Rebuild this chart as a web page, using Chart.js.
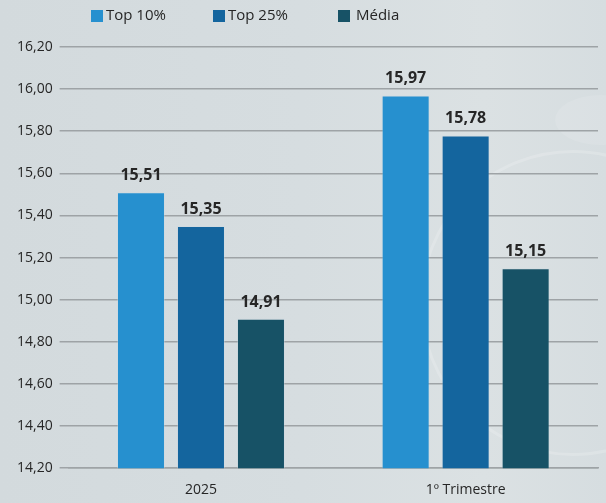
<!DOCTYPE html>
<html>
<head>
<meta charset="utf-8">
<script src="https://cdn.jsdelivr.net/npm/chart.js@4"></script>
<style>
  html, body { margin: 0; padding: 0; }
  body {
    width: 606px; height: 503px; overflow: hidden;
    background: linear-gradient(90deg, #d3dadd 0, #d6dde0 50%, #dbe1e3 80%, #d6dde0 100%);
  }
  #wrap { position: relative; width: 606px; height: 503px; overflow: hidden; }
  .deco {
    position: absolute; border-radius: 50%;
    border: 3px solid rgba(255,255,255,0.18);
  }
</style>
</head>
<body>
<div id="wrap">
  <div class="deco" style="left:420px; top:150px; width:300px; height:300px;"></div>
  <div class="deco" style="left:555px; top:95px; width:90px; height:50px; background:rgba(255,255,255,0.1); border:none;"></div>
  <canvas id="barChart" width="606" height="503" style="position:absolute; left:0; top:0;"></canvas>
</div>
<script>
const categorias = ["2025", "1º Trimestre"];
const seriesNomes = ["Top 10%", "Top 25%", "Média"];
const top10 = [15.51, 15.97];
const top25 = [15.35, 15.78];
const media = [14.91, 15.15];
const cores = ["#2690cf", "#14659e", "#175266"];

// formato com vírgula
function fmt(v) {
  return v.toFixed(2).replace(".", ",");
}

// legenda desenhada à mão (posições como no original)
const legendaX = [91, 213, 338];
const legendaPlugin = {
  id: "legendaManual",
  afterDraw(chart) {
    const ctx = chart.ctx;
    ctx.save();
    ctx.font = "15px 'Open Sans', sans-serif";
    ctx.textBaseline = "middle";
    chart.data.datasets.forEach((ds, i) => {
      ctx.fillStyle = ds.backgroundColor;
      ctx.fillRect(legendaX[i], 10, 12, 12);
      ctx.fillStyle = "#262626";
      ctx.fillText(ds.label, legendaX[i] + (i === 2 ? 18 : 15), 16);
    });
    ctx.restore();
  },
};

// rótulos em cima das barras
const rotulosPlugin = {
  id: "rotulos",
  afterDatasetsDraw(chart) {
    const ctx = chart.ctx;
    ctx.save();
    ctx.font = "bold 16px 'Open Sans', sans-serif";
    ctx.fillStyle = "#262626";
    ctx.textAlign = "center";
    ctx.textBaseline = "alphabetic";
    chart.data.datasets.forEach((ds, i) => {
      chart.getDatasetMeta(i).data.forEach((bar, j) => {
        ctx.fillText(fmt(ds.data[j]), bar.x, bar.y - 12);
      });
    });
    ctx.restore();
  },
};

const ctx = document.getElementById("barChart").getContext("2d");
const chart = new Chart(ctx, {
  type: "bar",
  data: {
    labels: categorias,
    datasets: [top10, top25, media].map((d, i) => ({
      label: seriesNomes[i],
      data: d,
      backgroundColor: cores[i],
      borderColor: "rgba(200,215,225,0.35)",
      borderWidth: 1,
      barPercentage: 0.8,
      categoryPercentage: 0.68,
    })),
  },
  options: {
    responsive: false,
    animation: false,
    layout: { padding: { left: 10, right: 8, top: 47, bottom: 0 } },
    plugins: {
      legend: { display: false },
      tooltip: { enabled: false },
    },
    scales: {
      x: {
        grid: { display: false },
        border: { color: "#9ea3a6", width: 1.5 },
        ticks: { color: "#262626", font: { size: 14, family: "'Open Sans', sans-serif" }, padding: 5 },
      },
      y: {
        min: 14.2,
        max: 16.2,
        ticks: {
          stepSize: 0.2,
          color: "#262626",
          font: { size: 14, family: "'Open Sans', sans-serif" },
          padding: 7,
          callback: (v) => fmt(v),
        },
        grid: { color: "#9ea3a6", lineWidth: 1.5, tickLength: 9, tickColor: "#9ea3a6" },
        border: { display: false },
      },
    },
  },
  plugins: [rotulosPlugin, legendaPlugin],
});
</script>
</body>
</html>
